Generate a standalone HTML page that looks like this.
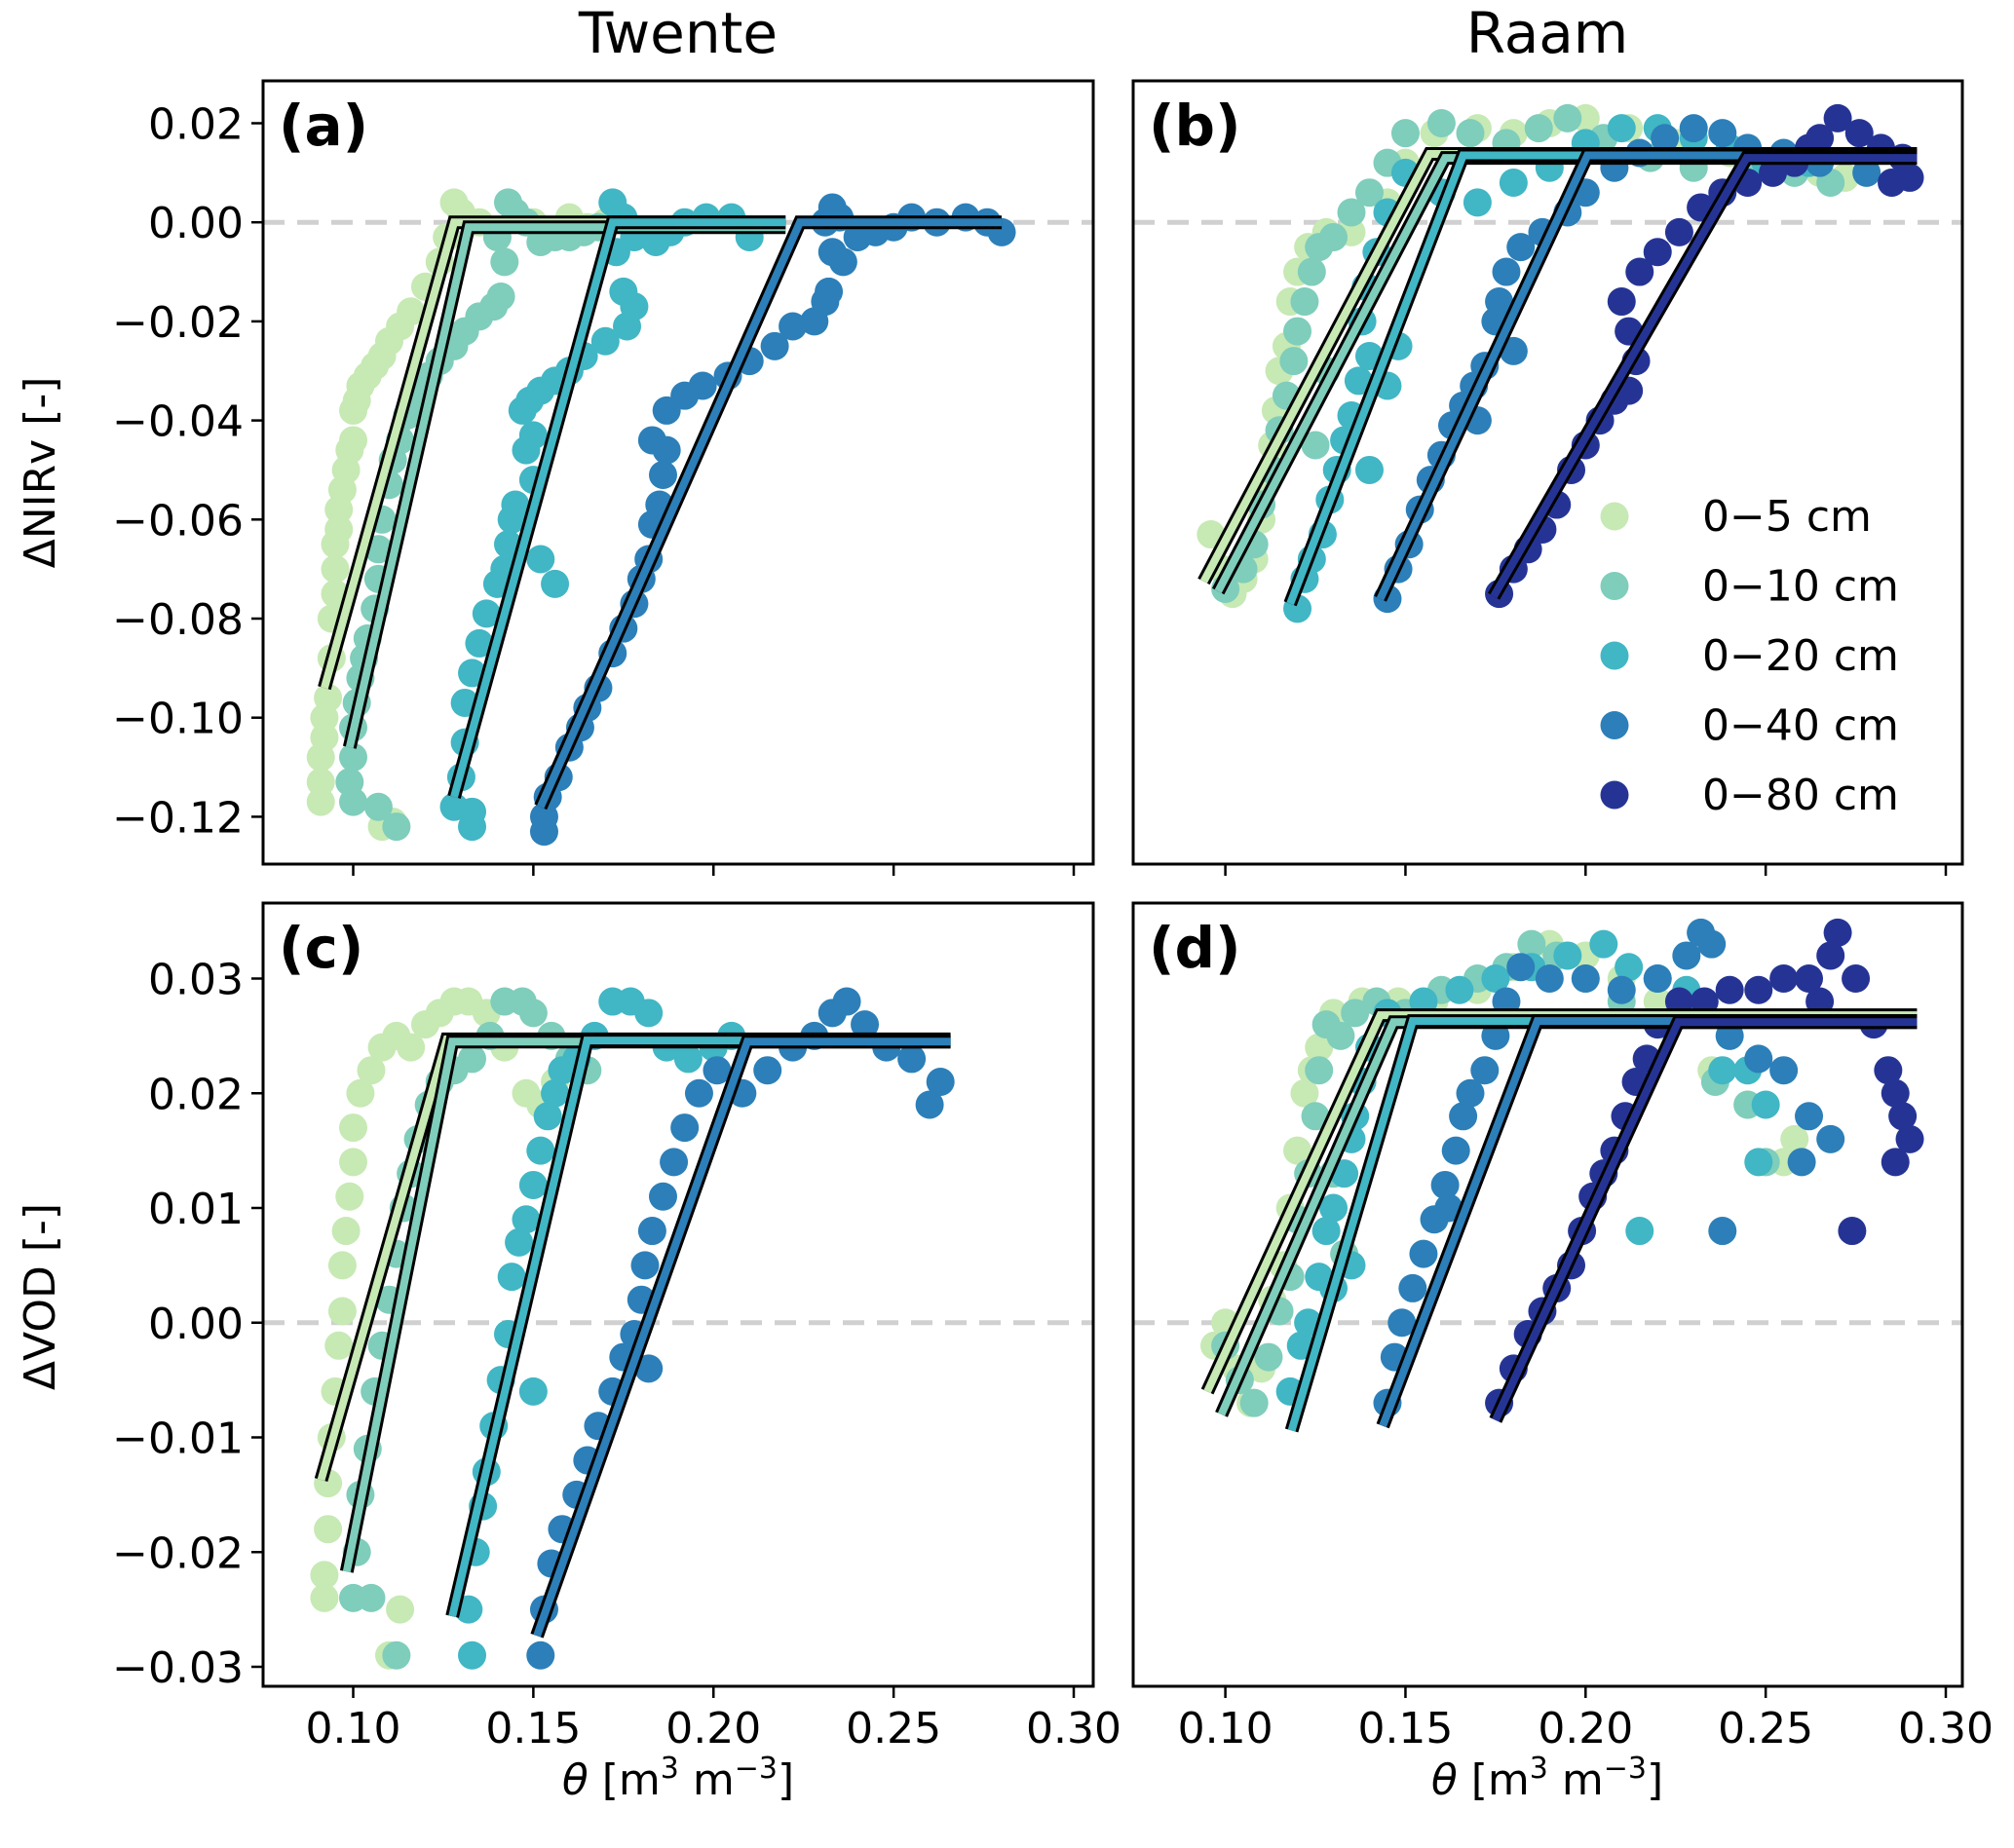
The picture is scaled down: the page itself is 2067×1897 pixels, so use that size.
<!DOCTYPE html>
<html><head><meta charset="utf-8">
<style>
html,body{margin:0;padding:0;background:#fff;}
svg{display:block;font-family:"DejaVu Sans","Liberation Sans",sans-serif;}
</style></head>
<body>
<svg id="fig" width="2067" height="1897" viewBox="0 0 2067 1897" xmlns="http://www.w3.org/2000/svg">
<text x="696" y="54" font-size="58" text-anchor="middle">Twente</text>
<text x="1588" y="54" font-size="58" text-anchor="middle">Raam</text>
<text transform="translate(56,485) rotate(-90)" font-size="44" text-anchor="middle">ΔNIRv [-]</text>
<text transform="translate(56,1331) rotate(-90)" font-size="44" text-anchor="middle">ΔVOD [-]</text>
<text x="696" y="1842" font-size="44" text-anchor="middle"><tspan font-style="italic">θ</tspan> [m<tspan baseline-shift="super" font-size="30">3</tspan> m<tspan baseline-shift="super" font-size="30">−3</tspan>]</text>
<text x="1588" y="1842" font-size="44" text-anchor="middle"><tspan font-style="italic">θ</tspan> [m<tspan baseline-shift="super" font-size="30">3</tspan> m<tspan baseline-shift="super" font-size="30">−3</tspan>]</text>
</svg>
<script>
// ===== data =====
const seriesNames = ["0\u22125 cm","0\u221210 cm","0\u221220 cm","0\u221240 cm","0\u221280 cm"];
const seriesColors = ["#c7e9b4","#7fcdbb","#41b6c4","#2c7fb8","#253494"];
const xTicks = [0.10,0.15,0.20,0.25,0.30];
const xTickLabels = ["0.10","0.15","0.20","0.25","0.30"];
const yTicksNirv = [0.02,0.00,-0.02,-0.04,-0.06,-0.08,-0.10,-0.12];
const yTickLabelsNirv = ["0.02","0.00","\u22120.02","\u22120.04","\u22120.06","\u22120.08","\u22120.10","\u22120.12"];
const yTicksVod = [0.03,0.02,0.01,0.00,-0.01,-0.02,-0.03];
const yTickLabelsVod = ["0.03","0.02","0.01","0.00","\u22120.01","\u22120.02","\u22120.03"];

// Panel a: Twente NIRv
const a05 = [[0.091,-0.117],[0.091,-0.113],[0.091,-0.108],[0.092,-0.104],[0.092,-0.100],[0.093,-0.096],[0.094,-0.088],[0.094,-0.080],[0.095,-0.075],[0.095,-0.070],[0.095,-0.065],[0.096,-0.062],[0.096,-0.058],[0.097,-0.054],[0.098,-0.050],[0.099,-0.046],[0.100,-0.044],[0.100,-0.038],[0.101,-0.036],[0.102,-0.033],[0.104,-0.031],[0.106,-0.029],[0.108,-0.027],[0.110,-0.024],[0.113,-0.021],[0.116,-0.018],[0.120,-0.013],[0.124,-0.008],[0.126,-0.003],[0.128,0.004],[0.130,0.002],[0.135,0.000],[0.140,-0.003],[0.145,0.001],[0.150,0.000],[0.155,-0.002],[0.160,0.001],[0.165,-0.001],[0.170,0.000],[0.108,-0.122],[0.111,-0.121]];
const a10 = [[0.100,-0.117],[0.099,-0.113],[0.100,-0.108],[0.100,-0.102],[0.101,-0.097],[0.102,-0.092],[0.103,-0.088],[0.104,-0.084],[0.106,-0.078],[0.107,-0.072],[0.107,-0.066],[0.108,-0.060],[0.110,-0.053],[0.111,-0.048],[0.113,-0.044],[0.115,-0.039],[0.118,-0.035],[0.121,-0.031],[0.124,-0.028],[0.128,-0.025],[0.131,-0.022],[0.135,-0.019],[0.139,-0.017],[0.141,-0.015],[0.142,-0.008],[0.140,-0.003],[0.143,0.004],[0.145,0.002],[0.148,0.000],[0.152,-0.004],[0.156,-0.003],[0.160,-0.003],[0.164,-0.002],[0.168,-0.001],[0.112,-0.122],[0.107,-0.118]];
const a20 = [[0.128,-0.118],[0.133,-0.122],[0.133,-0.119],[0.130,-0.112],[0.131,-0.105],[0.131,-0.097],[0.133,-0.091],[0.135,-0.085],[0.137,-0.079],[0.140,-0.073],[0.142,-0.070],[0.143,-0.065],[0.144,-0.060],[0.145,-0.057],[0.148,-0.046],[0.150,-0.043],[0.147,-0.038],[0.149,-0.036],[0.152,-0.034],[0.156,-0.032],[0.160,-0.030],[0.164,-0.027],[0.170,-0.024],[0.176,-0.021],[0.178,-0.017],[0.175,-0.014],[0.173,-0.006],[0.172,0.004],[0.175,0.001],[0.178,-0.003],[0.184,-0.004],[0.188,-0.002],[0.192,0.000],[0.198,0.001],[0.205,0.001],[0.210,-0.003],[0.150,-0.052],[0.156,-0.073],[0.152,-0.068]];
const a40 = [[0.153,-0.123],[0.153,-0.120],[0.154,-0.116],[0.157,-0.112],[0.160,-0.106],[0.163,-0.102],[0.165,-0.098],[0.168,-0.094],[0.172,-0.087],[0.175,-0.082],[0.178,-0.077],[0.180,-0.072],[0.182,-0.068],[0.183,-0.061],[0.185,-0.057],[0.186,-0.051],[0.187,-0.046],[0.183,-0.044],[0.187,-0.038],[0.192,-0.035],[0.197,-0.033],[0.204,-0.031],[0.210,-0.028],[0.217,-0.025],[0.222,-0.021],[0.228,-0.020],[0.231,-0.016],[0.232,-0.014],[0.233,-0.006],[0.231,0.000],[0.233,0.003],[0.235,0.001],[0.240,-0.003],[0.245,-0.002],[0.250,-0.001],[0.255,0.001],[0.262,0.000],[0.270,0.001],[0.276,0.000],[0.280,-0.002],[0.236,-0.008]];
const fitA05 = [[0.092,-0.094],[0.128,0.000],[0.220,0.000]];
const fitA10 = [[0.099,-0.106],[0.132,-0.001],[0.220,-0.001]];
const fitA20 = [[0.128,-0.116],[0.172,0.000],[0.220,0.000]];
const fitA40 = [[0.152,-0.118],[0.224,0.000],[0.280,0.000]];

// Panel b: Raam NIRv
const b05 = [[0.096,-0.063],[0.099,-0.070],[0.102,-0.075],[0.105,-0.072],[0.108,-0.068],[0.110,-0.060],[0.112,-0.052],[0.113,-0.045],[0.114,-0.038],[0.115,-0.030],[0.117,-0.025],[0.118,-0.016],[0.120,-0.010],[0.123,-0.005],[0.128,-0.002],[0.135,-0.002],[0.145,0.004],[0.150,0.012],[0.158,0.018],[0.170,0.019],[0.180,0.018],[0.190,0.020],[0.200,0.021],[0.212,0.019],[0.225,0.016],[0.240,0.014],[0.255,0.012],[0.265,0.010],[0.272,0.009]];
const b10 = [[0.100,-0.074],[0.105,-0.070],[0.108,-0.065],[0.110,-0.057],[0.113,-0.050],[0.115,-0.042],[0.117,-0.035],[0.119,-0.028],[0.120,-0.022],[0.122,-0.016],[0.124,-0.010],[0.126,-0.005],[0.130,-0.003],[0.135,0.002],[0.140,0.006],[0.145,0.012],[0.150,0.018],[0.160,0.020],[0.168,0.018],[0.178,0.016],[0.187,0.019],[0.195,0.021],[0.205,0.017],[0.218,0.013],[0.230,0.011],[0.245,0.012],[0.258,0.010],[0.268,0.008],[0.128,-0.030],[0.125,-0.045]];
const b20 = [[0.120,-0.078],[0.122,-0.072],[0.124,-0.068],[0.127,-0.063],[0.129,-0.056],[0.131,-0.050],[0.133,-0.044],[0.135,-0.039],[0.137,-0.032],[0.140,-0.027],[0.138,-0.020],[0.139,-0.013],[0.142,-0.006],[0.145,0.002],[0.150,0.010],[0.160,0.006],[0.170,0.004],[0.180,0.008],[0.190,0.011],[0.200,0.016],[0.210,0.019],[0.220,0.019],[0.230,0.017],[0.240,0.015],[0.250,0.012],[0.262,0.012],[0.140,-0.050],[0.145,-0.033],[0.148,-0.025]];
const b40 = [[0.145,-0.076],[0.148,-0.070],[0.151,-0.065],[0.154,-0.058],[0.157,-0.052],[0.160,-0.047],[0.163,-0.041],[0.166,-0.037],[0.169,-0.033],[0.172,-0.029],[0.175,-0.020],[0.176,-0.016],[0.178,-0.010],[0.182,-0.005],[0.188,-0.002],[0.195,0.002],[0.200,0.006],[0.208,0.011],[0.215,0.014],[0.222,0.017],[0.230,0.019],[0.238,0.018],[0.245,0.015],[0.255,0.014],[0.265,0.012],[0.278,0.010],[0.180,-0.026],[0.170,-0.040]];
const b80 = [[0.176,-0.075],[0.180,-0.070],[0.184,-0.066],[0.188,-0.062],[0.192,-0.057],[0.196,-0.050],[0.200,-0.045],[0.204,-0.040],[0.208,-0.036],[0.212,-0.034],[0.214,-0.028],[0.212,-0.022],[0.210,-0.016],[0.215,-0.010],[0.220,-0.006],[0.226,-0.002],[0.232,0.003],[0.238,0.006],[0.245,0.008],[0.252,0.010],[0.258,0.012],[0.265,0.017],[0.270,0.021],[0.276,0.018],[0.282,0.015],[0.288,0.013],[0.290,0.009],[0.285,0.008],[0.262,0.015]];
const fitB05 = [[0.094,-0.0725],[0.1567,0.0138],[0.292,0.0138]];
const fitB10 = [[0.098,-0.0745],[0.161,0.0130],[0.292,0.0130]];
const fitB20 = [[0.118,-0.077],[0.166,0.0135],[0.292,0.0135]];
const fitB40 = [[0.143,-0.076],[0.2005,0.0135],[0.292,0.0135]];
const fitB80 = [[0.1745,-0.0755],[0.2447,0.0130],[0.292,0.0130]];

// Panel c: Twente VOD
const c05 = [[0.092,-0.024],[0.092,-0.022],[0.093,-0.018],[0.093,-0.014],[0.094,-0.010],[0.095,-0.006],[0.096,-0.002],[0.097,0.001],[0.097,0.005],[0.098,0.008],[0.099,0.011],[0.100,0.014],[0.100,0.017],[0.102,0.020],[0.105,0.022],[0.108,0.024],[0.112,0.025],[0.116,0.024],[0.120,0.026],[0.124,0.027],[0.128,0.028],[0.132,0.028],[0.137,0.027],[0.142,0.024],[0.148,0.020],[0.152,0.019],[0.156,0.021],[0.110,-0.029],[0.113,-0.025]];
const c10 = [[0.100,-0.024],[0.101,-0.020],[0.102,-0.015],[0.104,-0.011],[0.106,-0.006],[0.108,-0.002],[0.110,0.002],[0.112,0.006],[0.114,0.010],[0.116,0.013],[0.118,0.016],[0.121,0.019],[0.124,0.021],[0.128,0.022],[0.133,0.023],[0.138,0.025],[0.142,0.028],[0.147,0.028],[0.150,0.027],[0.155,0.025],[0.160,0.023],[0.165,0.022],[0.112,-0.029],[0.105,-0.024]];
const c20 = [[0.133,-0.029],[0.132,-0.025],[0.134,-0.020],[0.136,-0.016],[0.137,-0.013],[0.139,-0.009],[0.141,-0.005],[0.143,-0.001],[0.144,0.004],[0.146,0.007],[0.148,0.009],[0.150,0.012],[0.152,0.015],[0.154,0.018],[0.156,0.020],[0.158,0.022],[0.162,0.023],[0.167,0.025],[0.172,0.028],[0.177,0.028],[0.182,0.027],[0.187,0.024],[0.193,0.023],[0.200,0.024],[0.205,0.025],[0.150,-0.006]];
const c40 = [[0.152,-0.029],[0.153,-0.025],[0.155,-0.021],[0.158,-0.018],[0.162,-0.015],[0.165,-0.012],[0.168,-0.009],[0.172,-0.006],[0.175,-0.003],[0.178,-0.001],[0.180,0.002],[0.181,0.005],[0.183,0.008],[0.186,0.011],[0.189,0.014],[0.192,0.017],[0.196,0.020],[0.201,0.022],[0.208,0.020],[0.215,0.022],[0.222,0.024],[0.228,0.025],[0.233,0.027],[0.237,0.028],[0.242,0.026],[0.248,0.024],[0.255,0.023],[0.260,0.019],[0.263,0.021],[0.182,-0.004]];
const fitC05 = [[0.0911,-0.0137],[0.126,0.0247],[0.2658,0.0247]];
const fitC10 = [[0.0982,-0.0217],[0.1275,0.0245],[0.2658,0.0245]];
const fitC20 = [[0.1275,-0.0256],[0.1649,0.0246],[0.2658,0.0246]];
const fitC40 = [[0.151,-0.0273],[0.2094,0.0245],[0.2658,0.0245]];

// Panel d: Raam VOD
const d05 = [[0.097,-0.002],[0.100,0.000],[0.103,-0.004],[0.107,-0.007],[0.110,-0.004],[0.113,0.002],[0.116,0.005],[0.118,0.010],[0.120,0.015],[0.122,0.020],[0.124,0.022],[0.126,0.024],[0.130,0.027],[0.138,0.028],[0.148,0.028],[0.158,0.028],[0.170,0.029],[0.180,0.031],[0.190,0.033],[0.200,0.032],[0.210,0.030],[0.220,0.028],[0.235,0.022],[0.245,0.019],[0.255,0.014],[0.258,0.016]];
const d10 = [[0.100,-0.002],[0.104,-0.005],[0.108,-0.007],[0.112,-0.003],[0.115,0.001],[0.118,0.004],[0.120,0.009],[0.123,0.013],[0.125,0.018],[0.126,0.022],[0.128,0.026],[0.132,0.025],[0.136,0.027],[0.142,0.028],[0.150,0.027],[0.160,0.029],[0.170,0.030],[0.178,0.031],[0.185,0.033],[0.192,0.032],[0.200,0.030],[0.210,0.028],[0.222,0.026],[0.236,0.021],[0.245,0.019],[0.250,0.014],[0.130,0.013],[0.133,0.006]];
const d20 = [[0.118,-0.006],[0.121,-0.002],[0.123,0.000],[0.126,0.004],[0.128,0.008],[0.130,0.010],[0.133,0.013],[0.135,0.016],[0.136,0.018],[0.138,0.021],[0.140,0.024],[0.145,0.027],[0.155,0.028],[0.165,0.029],[0.175,0.030],[0.185,0.031],[0.195,0.032],[0.205,0.033],[0.212,0.031],[0.220,0.030],[0.228,0.029],[0.238,0.022],[0.245,0.022],[0.250,0.019],[0.248,0.014],[0.215,0.008],[0.130,0.003],[0.135,0.005]];
const d40 = [[0.145,-0.007],[0.147,-0.003],[0.149,0.000],[0.152,0.003],[0.155,0.006],[0.158,0.009],[0.161,0.012],[0.164,0.015],[0.166,0.018],[0.168,0.020],[0.172,0.022],[0.175,0.025],[0.178,0.028],[0.182,0.031],[0.190,0.030],[0.200,0.030],[0.210,0.029],[0.220,0.030],[0.228,0.032],[0.232,0.034],[0.235,0.033],[0.240,0.025],[0.248,0.023],[0.255,0.022],[0.262,0.018],[0.268,0.016],[0.260,0.014],[0.238,0.008],[0.162,0.010]];
const d80 = [[0.176,-0.007],[0.180,-0.004],[0.184,-0.001],[0.188,0.001],[0.192,0.003],[0.196,0.005],[0.199,0.008],[0.202,0.011],[0.205,0.013],[0.208,0.015],[0.211,0.018],[0.214,0.021],[0.217,0.023],[0.220,0.026],[0.226,0.028],[0.233,0.028],[0.240,0.029],[0.248,0.029],[0.255,0.030],[0.262,0.030],[0.268,0.032],[0.270,0.034],[0.275,0.030],[0.280,0.026],[0.284,0.022],[0.286,0.020],[0.288,0.018],[0.290,0.016],[0.286,0.014],[0.274,0.008],[0.265,0.028]];
const fitD05 = [[0.095,-0.006],[0.143,0.0268],[0.292,0.0268]];
const fitD10 = [[0.0989,-0.008],[0.1467,0.0262],[0.292,0.0262]];
const fitD20 = [[0.1184,-0.0094],[0.152,0.0263],[0.292,0.0263]];
const fitD40 = [[0.1437,-0.009],[0.1866,0.0263],[0.292,0.0263]];
const fitD80 = [[0.175,-0.0085],[0.2257,0.0262],[0.292,0.0262]];

// ===== drawing =====
const NS = "http://www.w3.org/2000/svg";
const svg = document.getElementById("fig");
function mk(tag, attrs, parent){const e=document.createElementNS(NS,tag);for(const k in attrs)e.setAttribute(k,attrs[k]);(parent||svg).appendChild(e);return e;}

const panels = [
 {id:"a",label:"(a)",left:270,right:1122,top:83,bottom:887,x0:362.5,x1:1102,y0:126.5,y0v:0.02,y1:838.4,y1v:-0.12,yt:yTicksNirv,ytl:yTickLabelsNirv,showY:true,showX:false,scat:[a05,a10,a20,a40],fits:[fitA05,fitA10,fitA20,fitA40]},
 {id:"b",label:"(b)",left:1163,right:2014,top:83,bottom:887,x0:1257.6,x1:1997,y0:126.5,y0v:0.02,y1:838.4,y1v:-0.12,yt:yTicksNirv,ytl:yTickLabelsNirv,showY:false,showX:false,scat:[b05,b10,b20,b40,b80],fits:[fitB05,fitB10,fitB20,fitB40,fitB80]},
 {id:"c",label:"(c)",left:270,right:1122,top:927,bottom:1731,x0:362.5,x1:1102,y0:1004.5,y0v:0.03,y1:1711,y1v:-0.03,yt:yTicksVod,ytl:yTickLabelsVod,showY:true,showX:true,scat:[c05,c10,c20,c40],fits:[fitC05,fitC10,fitC20,fitC40]},
 {id:"d",label:"(d)",left:1163,right:2014,top:927,bottom:1731,x0:1257.6,x1:1997,y0:1004.5,y0v:0.03,y1:1711,y1v:-0.03,yt:yTicksVod,ytl:yTickLabelsVod,showY:false,showX:true,scat:[d05,d10,d20,d40,d80],fits:[fitD05,fitD10,fitD20,fitD40,fitD80]}
];

panels.forEach(p=>{
  const sx = v => p.x0 + (v-0.10)/(0.30-0.10)*(p.x1-p.x0);
  const sy = v => p.y0 + (v-p.y0v)/(p.y1v-p.y0v)*(p.y1-p.y0);
  const g = mk("g",{});
  
  
  const cp = mk("clipPath",{id:"clip"+p.id},g);
  mk("rect",{x:p.left,y:p.top,width:p.right-p.left,height:p.bottom-p.top},cp);
  const z = mk("line",{x1:p.left,x2:p.right,y1:sy(0),y2:sy(0),stroke:"#d0d0d0","stroke-width":5,"stroke-dasharray":"22,13"},g);
  
  
  const plot = mk("g",{"clip-path":"url(#clip"+p.id+")"},g);
  p.scat.forEach((arr,si)=>{
    arr.forEach(pt=>{
      const c = mk("circle",{cx:sx(pt[0]),cy:sy(pt[1]),r:14.5,fill:seriesColors[si]},plot);
      
      
    });
  });
  p.fits.forEach((arr,si)=>{
    const pts = arr.map(q=>sx(q[0])+","+sy(q[1])).join(" ");
    const o = mk("polyline",{points:pts,fill:"none",stroke:"#000","stroke-width":14,"stroke-linejoin":"miter","stroke-linecap":"butt"},plot);
    
    
    const l = mk("polyline",{points:pts,fill:"none",stroke:seriesColors[si],"stroke-width":8,"stroke-linejoin":"miter","stroke-linecap":"butt"},plot);
    
    
  });
  const fr = mk("rect",{x:p.left,y:p.top,width:p.right-p.left,height:p.bottom-p.top,fill:"none",stroke:"#000","stroke-width":3},g);
  
  
  const lb = mk("text",{x:p.left+16,y:p.top+66,"font-size":58,"font-weight":"bold"},g);
  lb.textContent = p.label;
  
  
  xTicks.forEach((t,i)=>{
    const tk = mk("line",{x1:sx(t),x2:sx(t),y1:p.bottom,y2:p.bottom+12,stroke:"#000","stroke-width":2.5},g);
    
    
    if(p.showX){
      const tl = mk("text",{x:sx(t),y:p.bottom+58,"font-size":44,"text-anchor":"middle"},g);
      tl.textContent = xTickLabels[i];
      
      
    }
  });
  if(p.showY){
    p.yt.forEach((t,i)=>{
      const tk = mk("line",{x1:p.left-12,x2:p.left,y1:sy(t),y2:sy(t),stroke:"#000","stroke-width":2.5},g);
      
      
      const tl = mk("text",{x:p.left-20,y:sy(t)+16,"font-size":44,"text-anchor":"end"},g);
      tl.textContent = p.ytl[i];
      
      
    });
  }
});

// legend in panel b
const leg = mk("g",{});


seriesNames.forEach((n,i)=>{
  const y = 530 + i*71.5;
  const c = mk("circle",{cx:1657,cy:y,r:14.5,fill:seriesColors[i]},leg);
  
  
  const t = mk("text",{x:1747,y:y+15,"font-size":44},leg);
  t.textContent = n;
  
  
});
</script>
</body></html>
